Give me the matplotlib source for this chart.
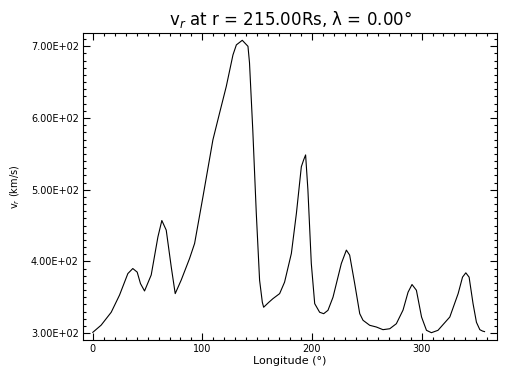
import numpy as np
import matplotlib.pyplot as plt
from matplotlib.ticker import MultipleLocator, FuncFormatter

# Radial speed along longitude
lon = [0, 7.6, 16.8, 24.4, 32, 36.5, 40.5, 43.5, 47.2, 53.3, 59.4, 63, 67, 71.6,
       75.2, 80.7, 88.3, 92.9, 100.5, 109.6, 115.7, 121.8, 127.9, 131, 136.4,
       141.6, 143, 146, 149.2, 152.2, 154.7, 155.9, 160.7, 164.4, 170.5, 175,
       181.2, 185.8, 190.3, 192.4, 194.2, 196.3, 199.4, 202.5, 207, 210.7, 214.6,
       219.2, 226.8, 231.4, 234.4, 239, 243.6, 246.6, 252.7, 258.8, 264.8, 271,
       277, 283.1, 287.7, 291.3, 295.3, 300, 304.5, 309, 315, 325.8, 333.4,
       337.4, 340.4, 343.4, 347, 350.1, 353.2, 355.6, 357.5]
vr = [301, 311, 329, 353, 383, 390, 385, 369, 358.7, 381, 434, 457, 443.6, 392,
      355, 374, 404, 425, 490, 569.5, 607, 644, 688, 702, 708.4,
      700, 677, 583, 467, 373.7, 343, 336, 343, 348, 355, 371,
      411, 467, 532, 541.5, 548.5, 499.6, 397, 341, 329, 327, 331.7,
      350, 397, 415.7, 408.7, 369, 327, 317.8, 310.8, 308.4, 304.7, 306,
      313, 332, 357, 367.7, 359.7, 322.4, 303.8, 300.5, 303.8, 322.4, 355,
      378, 384, 378, 341, 315, 304.7, 302.8, 302]

fig = plt.figure(figsize=(5.12, 3.84), dpi=100)
ax = fig.add_axes([0.162, 0.1146, 0.809, 0.7995])

ax.plot(lon, vr, color="black", linewidth=0.8)

ymin, ymax = min(vr), max(vr)
pad = 0.025 * (ymax - ymin)
ax.set_xlim(-9, 369)
ax.set_ylim(ymin - pad, ymax + pad)

ax.xaxis.set_major_locator(MultipleLocator(100))
ax.xaxis.set_minor_locator(MultipleLocator(10))
ax.yaxis.set_major_locator(MultipleLocator(100))
ax.yaxis.set_minor_locator(MultipleLocator(10))
ax.yaxis.set_major_formatter(FuncFormatter(lambda v, p: "%.2E" % v))

ax.tick_params(which="both", direction="in", top=True, right=True,
               labelsize=7, width=0.8)
ax.tick_params(which="major", length=5, pad=3)
ax.tick_params(which="minor", length=2.5)
for s in ax.spines.values():
    s.set_linewidth(0.8)

ax.set_title("v$_r$ at r = 215.00Rs, λ = 0.00°", fontsize=12, pad=6)
ax.set_xlabel("Longitude (°)", fontsize=8, labelpad=1)
ax.set_ylabel("v$_r$ (km/s)", fontsize=7, labelpad=6)

fig.savefig("out.png", dpi=100)
